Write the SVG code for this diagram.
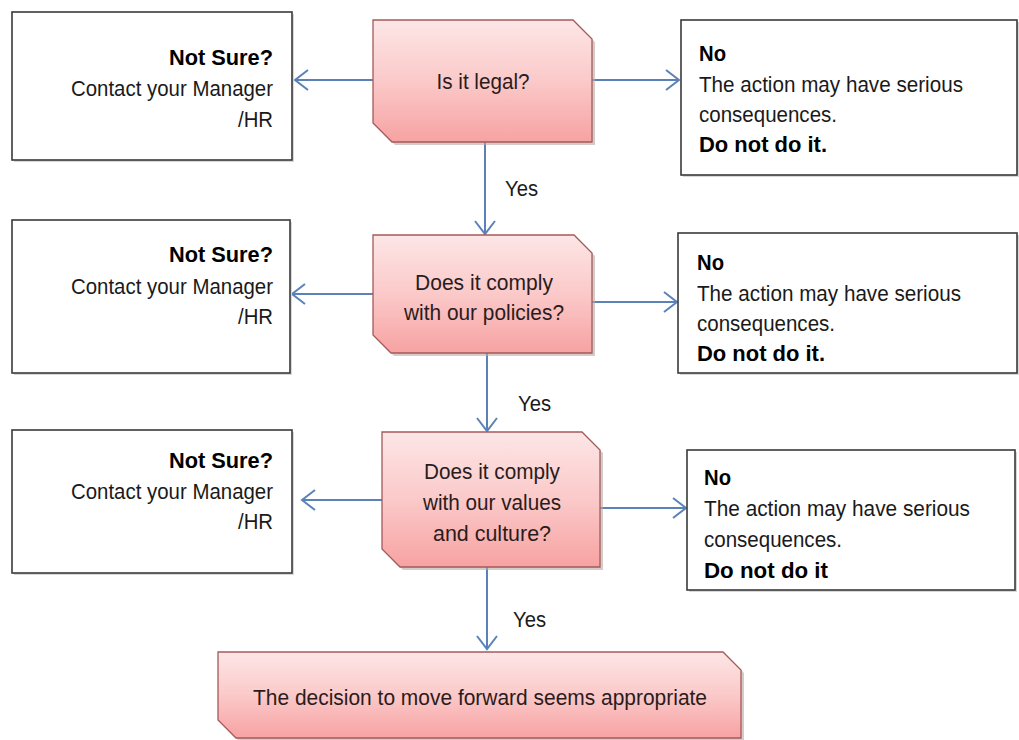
<svg xmlns="http://www.w3.org/2000/svg" width="1019" height="740" viewBox="0 0 1019 740">
<style>
text{font-family:"Liberation Sans",Arial,sans-serif;font-size:22px;fill:#1a1a1a}
.b{font-weight:bold;fill:#000}
.r{text-anchor:end}
.m{text-anchor:middle;fill:#2a1c1c}
.box{fill:#fff;stroke:#3a3a3a;stroke-width:1.6}
.bsh{fill:#d8d8d8}
.pink{fill:url(#pg);stroke:#a45a5a;stroke-width:1.3}
.psh{fill:#b9a9a9;opacity:0.6}
.c{stroke:#5a82b8;stroke-width:2;fill:none;marker-end:url(#ah)}
</style>
<defs>
<linearGradient id="pg" x1="0" y1="0" x2="0" y2="1">
<stop offset="0" stop-color="#fde6e6"/>
<stop offset="0.5" stop-color="#fbc9c9"/>
<stop offset="1" stop-color="#f7a2a2"/>
</linearGradient>
<marker id="ah" markerUnits="userSpaceOnUse" viewBox="-15 -12 17 24" markerWidth="17" markerHeight="24" refX="0" refY="0" orient="auto">
<path d="M-13,-10 L0,0 L-13,10" fill="none" stroke="#5a82b8" stroke-width="2"/>
</marker>
</defs>
<rect width="1019" height="740" fill="#fff"/>

<g id="connectors">
<line class="c" x1="373" y1="80" x2="295" y2="80"/>
<line class="c" x1="592" y1="80" x2="679" y2="80"/>
<line class="c" x1="485" y1="142" x2="485" y2="234"/>
<line class="c" x1="373" y1="294" x2="292" y2="294"/>
<line class="c" x1="592" y1="302" x2="677" y2="302"/>
<line class="c" x1="487" y1="353" x2="487" y2="431"/>
<line class="c" x1="382" y1="500" x2="302" y2="500"/>
<line class="c" x1="600" y1="508" x2="686" y2="508"/>
<line class="c" x1="487" y1="567" x2="487" y2="649"/>
<text x="505" y="196" textLength="33" lengthAdjust="spacingAndGlyphs">Yes</text>
<text x="518" y="411" textLength="33" lengthAdjust="spacingAndGlyphs">Yes</text>
<text x="513" y="627" textLength="33" lengthAdjust="spacingAndGlyphs">Yes</text>
</g>

<g id="q1">
<polygon class="psh" points="376,23 576,23 595,42 595,145 395,145 376,126"/>
<polygon class="pink" points="373,20 573,20 592,39 592,142 392,142 373,123"/>
<text class="m" x="483" y="89" textLength="93" lengthAdjust="spacingAndGlyphs">Is it legal?</text>
</g>

<g id="q2">
<polygon class="psh" points="376,238 577,238 595,256 595,356 394,356 376,338"/>
<polygon class="pink" points="373,235 574,235 592,253 592,353 391,353 373,335"/>
<text class="m" x="484" y="290" textLength="138" lengthAdjust="spacingAndGlyphs">Does it comply</text>
<text class="m" x="484" y="320" textLength="160" lengthAdjust="spacingAndGlyphs">with our policies?</text>
</g>

<g id="q3">
<polygon class="psh" points="385,435 585,435 603,453 603,570 403,570 385,552"/>
<polygon class="pink" points="382,432 582,432 600,450 600,567 400,567 382,549"/>
<text class="m" x="492" y="479" textLength="136" lengthAdjust="spacingAndGlyphs">Does it comply</text>
<text class="m" x="492" y="510" textLength="138" lengthAdjust="spacingAndGlyphs">with our values</text>
<text class="m" x="492" y="541" textLength="118" lengthAdjust="spacingAndGlyphs">and culture?</text>
</g>

<g id="result">
<polygon class="psh" points="221,655 726,655 744,673 744,741 239,741 221,723"/>
<polygon class="pink" points="218,652 723,652 741,670 741,738 236,738 218,720"/>
<text class="m" x="480" y="705" textLength="454" lengthAdjust="spacingAndGlyphs">The decision to move forward seems appropriate</text>
</g>

<g id="notsure1">
<rect class="bsh" x="14" y="14" width="280" height="148"/>
<rect class="box" x="12" y="12" width="280" height="148"/>
<text class="b r" x="273" y="65" textLength="104" lengthAdjust="spacingAndGlyphs">Not Sure?</text>
<text class="r" x="273" y="96" textLength="202" lengthAdjust="spacingAndGlyphs">Contact your Manager</text>
<text class="r" x="273" y="127" textLength="35" lengthAdjust="spacingAndGlyphs">/HR</text>
</g>

<g id="notsure2">
<rect class="bsh" x="14" y="222" width="278" height="153"/>
<rect class="box" x="12" y="220" width="278" height="153"/>
<text class="b r" x="273" y="262" textLength="104" lengthAdjust="spacingAndGlyphs">Not Sure?</text>
<text class="r" x="273" y="294" textLength="202" lengthAdjust="spacingAndGlyphs">Contact your Manager</text>
<text class="r" x="273" y="324" textLength="35" lengthAdjust="spacingAndGlyphs">/HR</text>
</g>

<g id="notsure3">
<rect class="bsh" x="14" y="432" width="280" height="143"/>
<rect class="box" x="12" y="430" width="280" height="143"/>
<text class="b r" x="273" y="468" textLength="104" lengthAdjust="spacingAndGlyphs">Not Sure?</text>
<text class="r" x="273" y="499" textLength="202" lengthAdjust="spacingAndGlyphs">Contact your Manager</text>
<text class="r" x="273" y="529" textLength="35" lengthAdjust="spacingAndGlyphs">/HR</text>
</g>

<g id="no1">
<rect class="bsh" x="683" y="22" width="336" height="155"/>
<rect class="box" x="681" y="20" width="336" height="155"/>
<text class="b" x="699" y="61" textLength="27" lengthAdjust="spacingAndGlyphs">No</text>
<text x="699" y="92" textLength="264" lengthAdjust="spacingAndGlyphs">The action may have serious</text>
<text x="699" y="122" textLength="138" lengthAdjust="spacingAndGlyphs">consequences.</text>
<text class="b" x="699" y="152" textLength="128" lengthAdjust="spacingAndGlyphs">Do not do it.</text>
</g>

<g id="no2">
<rect class="bsh" x="680" y="235" width="339" height="140"/>
<rect class="box" x="678" y="233" width="339" height="140"/>
<text class="b" x="697" y="270" textLength="27" lengthAdjust="spacingAndGlyphs">No</text>
<text x="697" y="301" textLength="264" lengthAdjust="spacingAndGlyphs">The action may have serious</text>
<text x="697" y="331" textLength="138" lengthAdjust="spacingAndGlyphs">consequences.</text>
<text class="b" x="697" y="361" textLength="128" lengthAdjust="spacingAndGlyphs">Do not do it.</text>
</g>

<g id="no3">
<rect class="bsh" x="689" y="452" width="328" height="140"/>
<rect class="box" x="687" y="450" width="328" height="140"/>
<text class="b" x="704" y="485" textLength="27" lengthAdjust="spacingAndGlyphs">No</text>
<text x="704" y="516" textLength="266" lengthAdjust="spacingAndGlyphs">The action may have serious</text>
<text x="704" y="547" textLength="138" lengthAdjust="spacingAndGlyphs">consequences.</text>
<text class="b" x="704" y="578" textLength="124" lengthAdjust="spacingAndGlyphs">Do not do it</text>
</g>
</svg>
